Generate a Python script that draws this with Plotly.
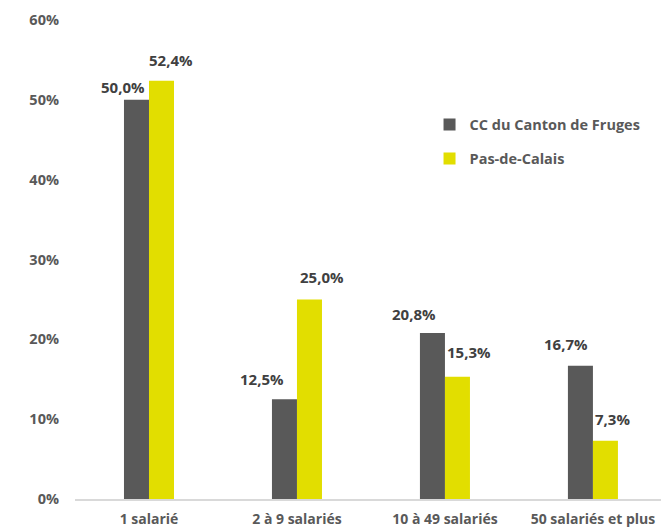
import plotly.graph_objects as go

categories = ["1 salarié", "2 à 9 salariés", "10 à 49 salariés", "50 salariés et plus"]
series_names = ["CC du Canton de Fruges", "Pas-de-Calais"]
cc_values = [50.0, 12.5, 20.8, 16.7]
pdc_values = [52.4, 25.0, 15.3, 7.3]
y_ticks = [0, 10, 20, 30, 40, 50, 60]
y_tick_labels = ["0%", "10%", "20%", "30%", "40%", "50%", "60%"]

colors = ["#595959", "#E2DE00"]
FONT = "Open Sans"
# label pixel offsets (style): dx relative to category centre, dy above bar top
cc_label_dx = [-26, -35, -31, -27]
cc_label_dy = [1, 8, 7, 10]
pdc_label_dx = [22, 25, 24, 20]
pdc_label_dy = [9, 10, 13, 10]

fig = go.Figure()
for name, vals, col in zip(series_names, [cc_values, pdc_values], colors):
    fig.add_trace(go.Bar(
        x=categories, y=vals, name=name, marker=dict(color=col, line=dict(width=0)),
        legendgroup=name, hoverinfo="skip",
    ))

fmt = lambda v: f"{v:.1f}".replace(".", ",") + "%"
for vals, dxs, dys in [(cc_values, cc_label_dx, cc_label_dy), (pdc_values, pdc_label_dx, pdc_label_dy)]:
    for c, v, dx, dy in zip(categories, vals, dxs, dys):
        fig.add_annotation(
            x=c, y=v, text=f"<b>{fmt(v)}</b>", showarrow=False,
            xanchor="center", yanchor="bottom", xshift=dx, yshift=dy,
            font=dict(family=FONT, size=15, color="#404040"),
        )

fig.update_layout(
    width=661, height=530,
    margin=dict(l=75, r=0, t=20, b=31),
    paper_bgcolor="white", plot_bgcolor="white",
    barmode="group", bargap=0.662, bargroupgap=0,
    showlegend=True,
    legend=dict(
        x=0.605, y=0.815, xanchor="left", yanchor="top",
        font=dict(family=FONT, size=14.5, color="#595959", weight="bold"),
        traceorder="grouped", tracegroupgap=12, bgcolor="rgba(0,0,0,0)",
        itemwidth=30,
    ),
    font=dict(family=FONT, color="#595959"),
)
fig.update_xaxes(
    type="category", range=[-0.5, 3.46], showgrid=False,
    showline=True, linecolor="#D9D9D9", linewidth=1.5,
    ticks="", ticklabelstandoff=6,
    tickfont=dict(family=FONT, size=14, color="#595959", weight="bold"),
    fixedrange=True,
)
fig.update_yaxes(
    range=[0, 60], tickvals=y_ticks, ticktext=y_tick_labels,
    showgrid=False, zeroline=False, showline=False, ticks="",
    ticklabelstandoff=15,
    tickfont=dict(family=FONT, size=14.5, color="#595959", weight="bold"),
    fixedrange=True,
)

fig.write_html("out.html", config={"displayModeBar": False},
               post_script="document.body.style.margin='0';")
